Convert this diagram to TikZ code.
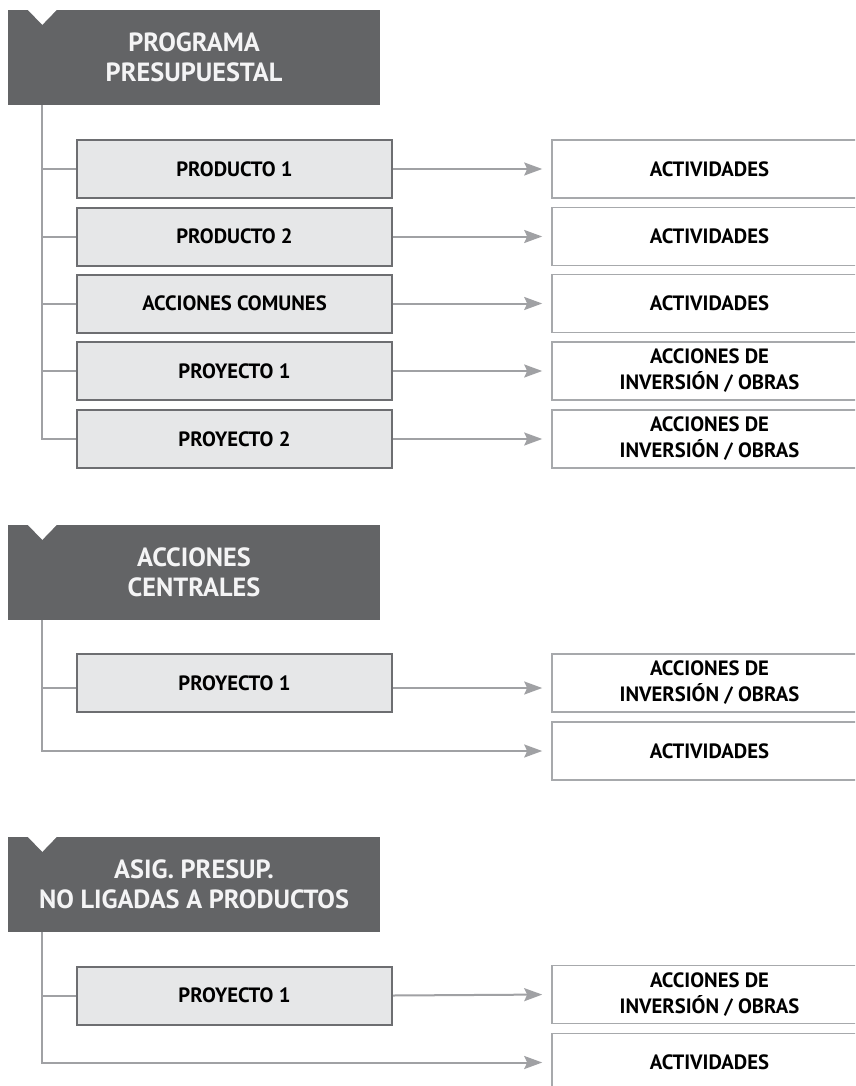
\documentclass[tikz,border=0pt]{standalone}
\usepackage{fontspec}
\setmainfont{PT Sans}
\usetikzlibrary{arrows.meta}
\definecolor{hdrgray}{HTML}{636466}
\definecolor{lightfill}{HTML}{E6E7E8}
\definecolor{boxborder}{HTML}{6D6E71}
\definecolor{conngray}{HTML}{A0A1A4}
\definecolor{tgtborder}{HTML}{A7A9AC}
\definecolor{hdrtext}{HTML}{F4F4F5}
\tikzset{
  hdr/.style={fill=hdrgray, text=hdrtext, minimum width=372pt, minimum height=95pt, inner sep=0pt, align=center, font=\bfseries\fontsize{26.3}{30}\selectfont},
  subbox/.style={fill=lightfill, draw=boxborder, line width=2pt, minimum width=315pt, minimum height=58pt, inner sep=0pt, align=center, font=\bfseries\fontsize{20.7}{26}\selectfont},
  tgtbox/.style={fill=white, draw=tgtborder, line width=1.6pt, minimum width=315pt, minimum height=58pt, inner sep=0pt, align=center, font=\bfseries\fontsize{20.7}{26}\selectfont},
  conn/.style={draw=conngray, line width=2pt},
  arr/.style={conn, -{Stealth[length=18pt, width=13pt, inset=3pt]}, shorten >=9pt}
}
\newcommand{\notch}[1]{\fill[white] ([xshift=20pt]#1.north west) -- ([xshift=49pt]#1.north west) -- ([xshift=34.5pt,yshift=-15pt]#1.north west) -- cycle;}
\begin{document}
\begin{tikzpicture}[x=1pt, y=-1pt]
\clip (0,0) rectangle (855,1086);
\fill[white] (0,0) rectangle (855,1086);

% ---------- Section 1 ----------
\node[hdr] (h1) at (194,57.5) {PROGRAMA\\PRESUPUESTAL};
\notch{h1}
\coordinate (v1) at ([xshift=34.5pt]h1.south west);

\node[subbox] (a1) at (234.5,169) {PRODUCTO 1};
\node[subbox] (a2) at (234.5,236.5) {PRODUCTO 2};
\node[subbox] (a3) at (234.5,303.5) {ACCIONES COMUNES};
\node[subbox] (a4) at (234.5,371) {PROYECTO 1};
\node[subbox] (a5) at (234.5,439) {PROYECTO 2};

\node[tgtbox] (b1) at (709.5,169) {ACTIVIDADES};
\node[tgtbox] (b2) at (709.5,236.5) {ACTIVIDADES};
\node[tgtbox] (b3) at (709.5,303.5) {ACTIVIDADES};
\node[tgtbox] (b4) at (709.5,371) {ACCIONES DE\\INVERSIÓN / OBRAS};
\node[tgtbox] (b5) at (709.5,439) {ACCIONES DE\\INVERSIÓN / OBRAS};

\draw[conn] (v1) |- (a5.west);
\foreach \n in {a1,a2,a3,a4} \draw[conn] (\n.west) -- (\n.west -| v1);
\foreach \s/\t in {a1/b1,a2/b2,a3/b3,a4/b4,a5/b5} \draw[arr] (\s.east) -- (\t.west);

% ---------- Section 2 ----------
\node[hdr] (h2) at (194,572.5) {ACCIONES\\CENTRALES};
\notch{h2}
\coordinate (v2) at ([xshift=34.5pt]h2.south west);

\node[subbox] (c1) at (234.5,683) {PROYECTO 1};
\node[tgtbox] (d1) at (709.5,683) {ACCIONES DE\\INVERSIÓN / OBRAS};
\node[tgtbox] (d2) at (709.5,751) {ACTIVIDADES};

\draw[arr] (v2) |- (d2.west);
\draw[conn] ([yshift=-5pt]c1.west) -- ([yshift=-5pt]c1.west -| v2);
\draw[arr] ([yshift=-5pt]c1.east) -- ([yshift=-5pt]d1.west);

% ---------- Section 3 ----------
\node[hdr] (h3) at (194,884.5) {ASIG. PRESUP.\\NO LIGADAS A PRODUCTOS};
\notch{h3}
\coordinate (v3) at ([xshift=34.5pt]h3.south west);

\node[subbox] (e1) at (234.5,995.5) {PROYECTO 1};
\node[tgtbox] (f1) at (709.5,994.5) {ACCIONES DE\\INVERSIÓN / OBRAS};
\node[tgtbox] (f2) at (709.5,1062.5) {ACTIVIDADES};

\draw[arr] (v3) |- (f2.west);
\draw[conn] (e1.west) -- (e1.west -| v3);
\draw[arr] (e1.east) -- (f1.west);
\end{tikzpicture}
\end{document}
